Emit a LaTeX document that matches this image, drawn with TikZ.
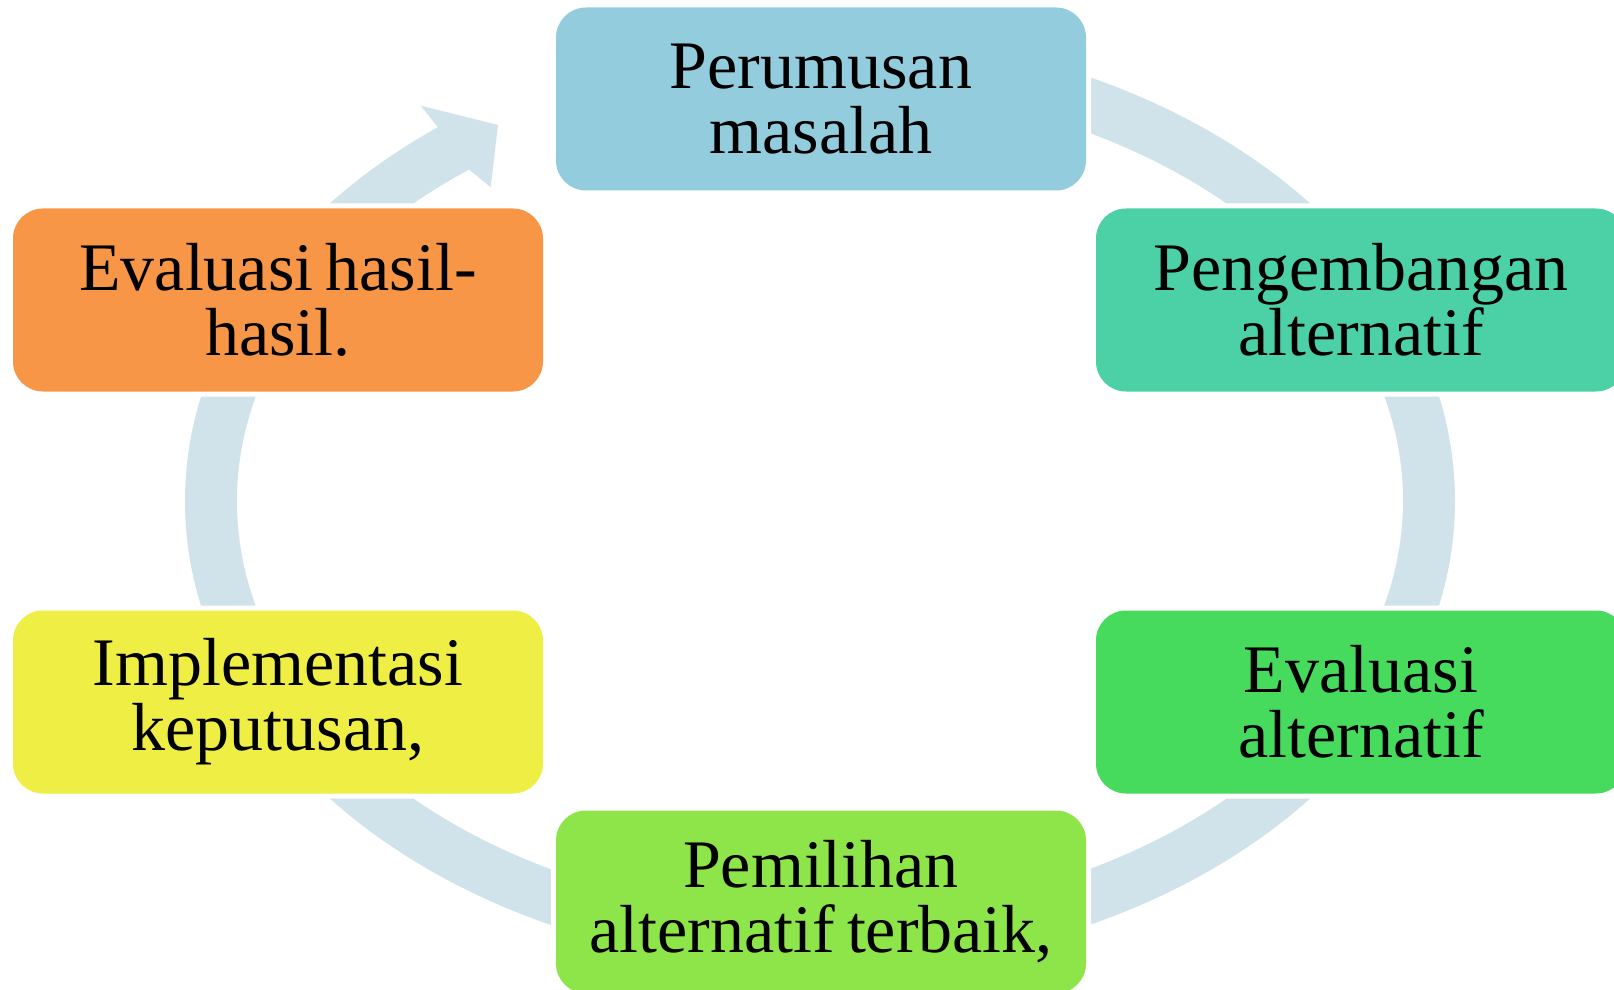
\documentclass[tikz,border=0pt]{standalone}
\usepackage{fontspec}
\setmainfont{Liberation Serif}
\usetikzlibrary{calc}
\definecolor{ringc}{RGB}{208,227,235}
\definecolor{cA}{RGB}{147,205,221}
\definecolor{cB}{RGB}{75,209,165}
\definecolor{cC}{RGB}{71,219,94}
\definecolor{cD}{RGB}{142,229,74}
\definecolor{cE}{RGB}{238,238,69}
\definecolor{cF}{RGB}{247,150,70}
\newcommand{\tightspaces}{\spaceskip=0.18em\relax}
\tikzset{
  stagebox/.style={rectangle, rounded corners=15pt, minimum width=265pt, minimum height=91.5pt,
    inner sep=0pt, text width=255pt, align=center,
    font=\fontsize{34pt}{32.5pt}\selectfont,
    execute at begin node=\tightspaces,
    preaction={draw=white, line width=5pt}}
}
\begin{document}
\begin{tikzpicture}[x=0.5pt, y=-0.5pt]
\useasboundingbox (0,0) rectangle (1614,990);
\clip (0,0) rectangle (1614,990);
% ring with arrowhead
\coordinate (cen) at (820,501);
\fill[ringc] ($(cen)+(-90:635 and 468)$) arc[start angle=-90, end angle=233, x radius=635, y radius=468]
  -- (420.7,105.7) -- (498,125) -- (490.7,187.3)
  -- ($(cen)+(233:583 and 415)$) arc[start angle=233, end angle=-90, x radius=583, y radius=415] -- cycle;
% stages
\node[stagebox, fill=cA] (p1) at (821,99)  {Perumusan\\masalah};
\node[stagebox, fill=cB] (p2) at (1361,300) {Pengembangan\\alternatif};
\node[stagebox, fill=cC] (p3) at (1361,702) {Evaluasi\\alternatif};
\node[stagebox, fill=cD] (p4) at (821,902) {Pemilihan\\alternatif terbaik,};
\node[stagebox, fill=cE] (p5) at (278,702) {Implementasi\\keputusan,};
\node[stagebox, fill=cF] (p6) at (278,300) {Evaluasi hasil-\\hasil.};
\end{tikzpicture}
\end{document}
